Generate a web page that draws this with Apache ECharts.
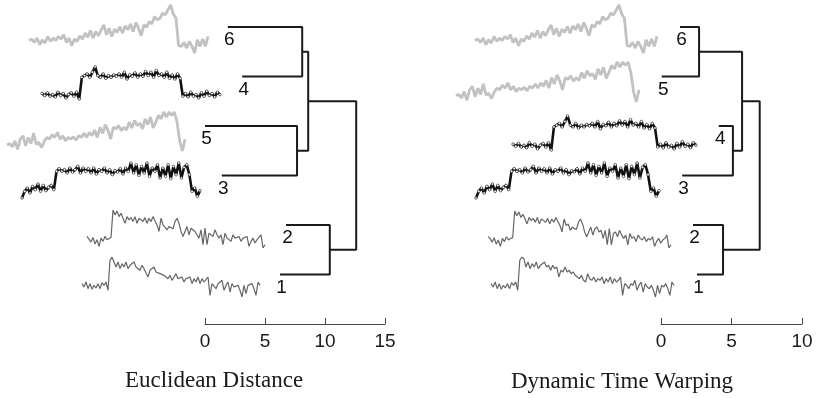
<!DOCTYPE html>
<html><head><meta charset="utf-8">
<script src="https://cdn.jsdelivr.net/npm/echarts@6/dist/echarts.min.js"></script>
<style>html,body{margin:0;padding:0;background:#fff}#c{width:821px;height:398px}</style>
</head><body><div id="c"></div>
<script>
// ---- time series ----
const s6 = [38,42,32,45,25,40,30,50,35,45,38,50,42,55,32,45,22,42,35,52,42,60,48,68,45,65,52,70,85,55,75,50,72,62,80,60,82,70,88,65,92,75,52,85,78,95,88,110,100,105,120,115,130,145,118,105,22,20,32,15,35,20,0,40,20,42,20,50];
const s5 = [28,32,22,40,15,45,55,25,50,32,62,30,35,20,38,50,45,58,50,65,45,55,40,50,45,52,42,55,50,62,50,65,55,72,50,80,62,88,70,45,80,75,85,70,80,72,95,78,100,85,92,75,105,88,110,78,95,115,105,125,110,125,115,125,95,40,10,45];
const s4 = [23,17,25,15,20,13,27,17,23,10,20,25,15,27,7,70,75,80,70,85,100,75,70,80,67,75,70,77,73,80,70,85,65,77,73,83,70,80,73,87,75,85,70,90,75,80,70,85,67,77,65,80,67,15,23,13,27,15,20,10,25,15,30,17,23,13,27,20];
const s3 = [5,25,35,20,40,30,47,25,43,27,37,43,30,85,93,85,90,80,95,83,90,100,80,95,85,93,80,95,77,90,85,95,80,90,75,87,83,93,77,95,85,110,80,105,73,100,80,110,70,95,85,105,65,95,70,105,63,100,75,110,65,97,105,75,25,35,10,27];
const s2 = [40,35,23,37,17,30,10,35,25,40,30,35,37,120,105,117,100,110,95,80,100,90,97,85,100,80,95,90,85,97,80,95,85,100,87,75,55,95,75,80,60,70,65,63,85,95,80,55,40,55,70,45,65,70,55,60,35,60,15,65,15,50,55,40,60,45,35,45,15,50,35,40,25,45,35,30,40,25,35,30,40,10,25,35,20,30,35,45,5,15];
const s1 = [45,35,50,30,45,28,40,32,45,30,48,40,50,25,115,125,120,95,110,90,105,95,110,90,100,105,110,95,100,85,100,90,95,65,85,80,95,80,85,75,80,70,65,60,70,55,50,75,60,55,65,50,60,55,65,45,60,50,65,45,60,50,55,65,10,45,40,30,45,40,55,25,40,50,20,45,35,30,40,25,5,40,15,40,35,45,30,10,50,40];

// ---- dendrograms ----
const edLeaves = ['6','4','5','3','2','1'];
const edLeafStart = [1.9, 3.1, 0.0, 1.4, 6.75, 6.25];
const edMerges = [[0,1,8.1],[2,3,7.67],[6,7,8.6],[4,5,10.4],[8,9,12.6]];
const edTicks = [0,5,10,15];

const dtwLeaves = ['6','5','4','3','2','1'];
const dtwLeafStart = [1.35, 0.05, 4.1, 1.5, 2.27, 2.55];
const dtwMerges = [[0,1,2.7],[2,3,5.1],[6,7,5.75],[4,5,4.4],[8,9,7.0]];
const dtwTicks = [0,5,10];

const seriesByName = {'1':s1,'2':s2,'3':s3,'4':s4,'5':s5,'6':s6};

const grids=[], xAxes=[], yAxes=[], series=[];
const SANS = 'Liberation Sans, Arial, Helvetica, sans-serif';

function sparkStyle(name){
  if (name==='6'||name==='5') return {lineStyle:{color:'#c2c2c2',width:2.8},showSymbol:false};
  if (name==='2'||name==='1') return {lineStyle:{color:'#666',width:1.2},showSymbol:false};
  return {lineStyle:{color:'#111',width:2.6},showSymbol:true,symbol:'circle',symbolSize:2.6,
          itemStyle:{color:'#fff',borderColor:'#111',borderWidth:0.6,opacity:1}};
}
function addSpark(name, box){
  const data = seriesByName[name];
  const gi = grids.length;
  grids.push({left:box[0], top:box[1], width:box[2], height:box[3]});
  xAxes.push({gridIndex:gi, type:'value', min:0, max:data.length-1, show:false});
  yAxes.push({gridIndex:gi, type:'value', min:'dataMin', max:'dataMax', show:false});
  series.push(Object.assign({type:'line', xAxisIndex:gi, yAxisIndex:gi, silent:true,
    data:data.map((v,i)=>[i,v])}, sparkStyle(name)));
}
function addDendro(leaves, starts, merges, ticks, left, width){
  const gi = grids.length;
  grids.push({left:left, width:width, top:27, bottom:74});
  xAxes.push({gridIndex:gi, type:'value', position:'bottom', min:ticks[0], max:ticks[ticks.length-1], interval:5,
    axisLine:{show:true, onZero:false, lineStyle:{color:'#444', width:1}},
    axisTick:{show:true, inside:true, length:6, lineStyle:{color:'#444', width:1}},
    splitLine:{show:false},
    axisLabel:{show:true, margin:8, fontSize:19, color:'#1a1a1a', fontFamily:SANS, showMaxLabel:true, showMinLabel:true}});
  yAxes.push({gridIndex:gi, type:'value', inverse:true, min:0, max:6, show:false});
  const nodes = starts.map((s,i)=>({x:s,y:i}));
  merges.forEach(([a,b,h])=>{
    const A=nodes[a], B=nodes[b];
    series.push({type:'line', xAxisIndex:gi, yAxisIndex:gi, silent:true, showSymbol:false,
      lineStyle:{color:'#1a1a1a', width:2}, data:[[A.x,A.y],[h,A.y],[h,B.y],[B.x,B.y]]});
    nodes.push({x:h, y:(A.y+B.y)/2});
  });
  series.push({type:'scatter', xAxisIndex:gi, yAxisIndex:gi, symbolSize:0, silent:true,
    itemStyle:{opacity:1, color:'#1a1a1a'},
    data: leaves.map((n,i)=>[starts[i], i, n]),
    label:{show:true, position:[1.5,13], align:'center', verticalAlign:'middle', formatter:p=>p.value[2],
      fontSize:19, color:'#111', textBorderWidth:0, fontFamily:SANS}});
}

// left panel sparklines
const leftBoxes = [[29,5,179,48],[42,67,178,32],[7,112,178,39],[22,163,178,35],[87,210,178,38],[82,257,178,40]];
edLeaves.forEach((n,i)=>addSpark(n, leftBoxes[i]));
// right panel sparklines
const rightBoxes = [[475,5,182,48],[456,62,183,40],[513,116,183,34],[476,163,183,35],[488,211,183,37],[491,257,183,40]];
dtwLeaves.forEach((n,i)=>addSpark(n, rightBoxes[i]));

addDendro(edLeaves, edLeafStart, edMerges, edTicks, 205, 180);
addDendro(dtwLeaves, dtwLeafStart, dtwMerges, dtwTicks, 661, 141);

const chart = echarts.init(document.getElementById('c'));
chart.setOption({
  animation:false,
  backgroundColor:'#fff',
  grid:grids, xAxis:xAxes, yAxis:yAxes, series:series,
  graphic:[
    {type:'text', x:214, y:381, style:{text:'Euclidean Distance', textAlign:'center', textVerticalAlign:'middle',
      fontFamily:'Liberation Serif, Times New Roman, serif', fontSize:23, fill:'#1a1a1a'}},
    {type:'text', x:622, y:382, style:{text:'Dynamic Time Warping', textAlign:'center', textVerticalAlign:'middle',
      fontFamily:'Liberation Serif, Times New Roman, serif', fontSize:23, fill:'#1a1a1a'}}
  ]
});
</script></body></html>
